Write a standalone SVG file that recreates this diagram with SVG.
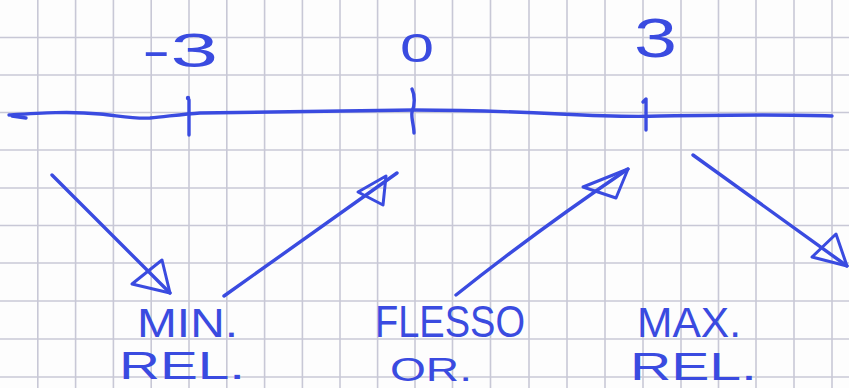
<svg xmlns="http://www.w3.org/2000/svg" width="849" height="388" viewBox="0 0 849 388">
<style>
  .grid line { stroke: #c8c8d6; stroke-width: 1.6; }
  .ink { fill: none; stroke: #3a4be0; stroke-width: 3.4; stroke-linecap: round; stroke-linejoin: round; }
  .head { fill: none; stroke: #3a4be0; stroke-width: 3; stroke-linejoin: round; }
  .lbl { font-family: "Liberation Sans", Arial, sans-serif; fill: #3a4be0; }
</style>
<rect width="849" height="388" fill="#fdfdfd"/>
<g class="grid">
  <line x1="37.8" y1="0" x2="37.8" y2="388"/><line x1="75.6" y1="0" x2="75.6" y2="388"/>
  <line x1="113.4" y1="0" x2="113.4" y2="388"/><line x1="151.2" y1="0" x2="151.2" y2="388"/>
  <line x1="189" y1="0" x2="189" y2="388"/><line x1="226.8" y1="0" x2="226.8" y2="388"/>
  <line x1="264.6" y1="0" x2="264.6" y2="388"/><line x1="302.4" y1="0" x2="302.4" y2="388"/>
  <line x1="340" y1="0" x2="340" y2="388"/><line x1="377.6" y1="0" x2="377.6" y2="388"/>
  <line x1="415" y1="0" x2="415" y2="388"/><line x1="452.5" y1="0" x2="452.5" y2="388"/>
  <line x1="490.5" y1="0" x2="490.5" y2="388"/><line x1="529" y1="0" x2="529" y2="388"/>
  <line x1="567" y1="0" x2="567" y2="388"/><line x1="605" y1="0" x2="605" y2="388"/>
  <line x1="643" y1="0" x2="643" y2="388"/><line x1="681" y1="0" x2="681" y2="388"/>
  <line x1="718.5" y1="0" x2="718.5" y2="388"/><line x1="756" y1="0" x2="756" y2="388"/>
  <line x1="794" y1="0" x2="794" y2="388"/><line x1="832" y1="0" x2="832" y2="388"/>
  <line x1="0" y1="37.5" x2="849" y2="37.5"/><line x1="0" y1="75" x2="849" y2="75"/>
  <line x1="0" y1="112.5" x2="849" y2="112.5"/><line x1="0" y1="150" x2="849" y2="150"/>
  <line x1="0" y1="188" x2="849" y2="188"/><line x1="0" y1="225.5" x2="849" y2="225.5"/>
  <line x1="0" y1="263" x2="849" y2="263"/><line x1="0" y1="301" x2="849" y2="301"/>
  <line x1="0" y1="339" x2="849" y2="339"/><line x1="0" y1="377" x2="849" y2="377"/>
</g>
<g id="axis">
  <path class="ink" d="M9,115 C40,113 70,111 100,114 C120,116 135,119 150,118 C170,116 185,114 200,113 C260,112 330,111 414,110 C470,110 520,112 560,114 C600,116 630,117 660,116 C720,115 780,114 832,116"/>
  <path class="ink" d="M12,116 L26,118"/>
  <path class="ink" d="M188,98 L189,100 L189,135"/>
  <circle cx="188" cy="98" r="2.2" fill="#3a4be0"/>
  <path class="ink" d="M412,89 C415,95 415,105 412,112 C411,118 414,126 414,133"/>
  <path class="ink" d="M643,102 L646,99 L646,130"/>
</g>
<g id="tick-minus3"><text class="lbl" x="142" y="67" font-size="48" textLength="76" lengthAdjust="spacingAndGlyphs">-3</text></g>
<g id="tick-0"><text class="lbl" x="400" y="62" font-size="41" textLength="34" lengthAdjust="spacingAndGlyphs">0</text></g>
<g id="tick-3"><text class="lbl" x="634" y="57" font-size="56" textLength="43" lengthAdjust="spacingAndGlyphs">3</text></g>
<g id="connectors">
  <path class="ink" d="M52,175 L170,293"/>
  <polygon class="head" points="132,284 162,260 170,293"/>
  <path class="ink" d="M224,296 L397,173"/>
  <polygon class="head" points="358,192 386,176 383,205"/>
  <path class="ink" d="M456,295 C500,260 560,215 628,169"/>
  <polygon class="head" points="583,187 628,169 616,198"/>
  <path class="ink" d="M693,155 L847,266"/>
  <polygon class="head" points="812,257 836,234 847,266"/>
</g>
<g id="min-rel">
  <text class="lbl" x="137" y="337" font-size="41" textLength="101" lengthAdjust="spacingAndGlyphs">MIN.</text>
  <text class="lbl" x="119" y="379" font-size="38" textLength="126" lengthAdjust="spacingAndGlyphs">REL.</text>
</g>
<g id="flesso-or">
  <text class="lbl" x="375" y="337" font-size="45" textLength="150" lengthAdjust="spacingAndGlyphs">FLESSO</text>
  <text class="lbl" x="390" y="381" font-size="34" textLength="82" lengthAdjust="spacingAndGlyphs">OR.</text>
</g>
<g id="max-rel">
  <text class="lbl" x="637" y="337" font-size="43" textLength="104" lengthAdjust="spacingAndGlyphs">MAX.</text>
  <text class="lbl" x="630" y="380" font-size="38" textLength="127" lengthAdjust="spacingAndGlyphs">REL.</text>
</g>
</svg>
